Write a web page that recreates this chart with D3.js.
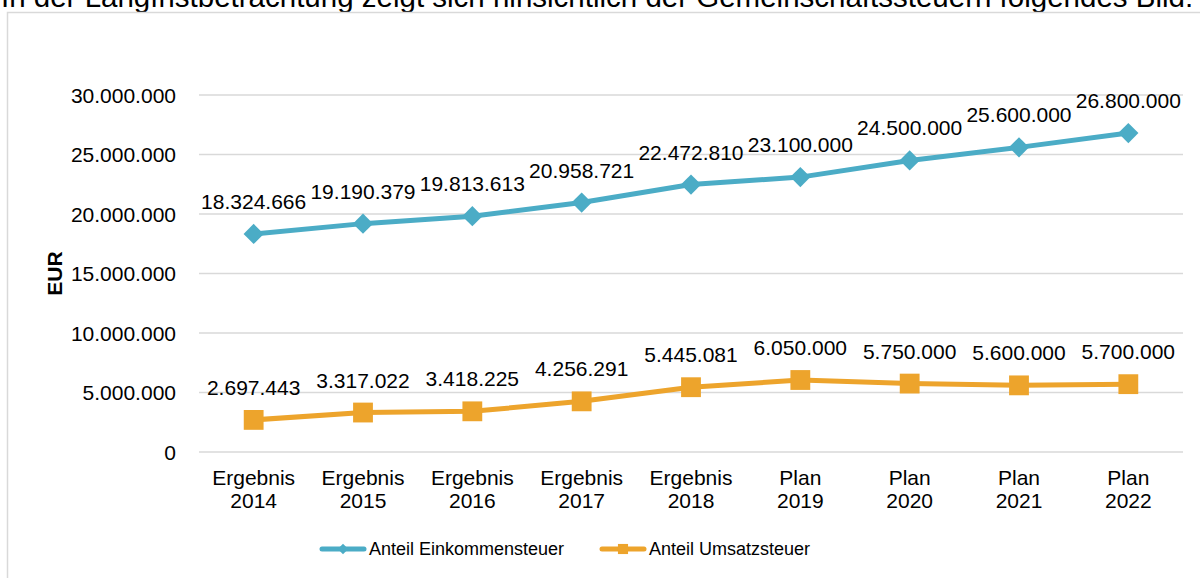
<!DOCTYPE html>
<html>
<head>
<meta charset="utf-8">
<script src="https://cdn.jsdelivr.net/npm/d3@7"></script>
<style>
  body { margin: 0; background: #fff; overflow: hidden; }
  svg { display: block; font-family: "Liberation Sans", Arial, sans-serif; }
</style>
</head>
<body>
<div id="chart"></div>
<script>
// Kategorien und Werte
const categories = [
    ["Ergebnis", "2014"], ["Ergebnis", "2015"], ["Ergebnis", "2016"],
    ["Ergebnis", "2017"], ["Ergebnis", "2018"], ["Plan", "2019"],
    ["Plan", "2020"], ["Plan", "2021"], ["Plan", "2022"]
];
const einkommensteuer = [18324666, 19190379, 19813613, 20958721, 22472810, 23100000, 24500000, 25600000, 26800000];
const umsatzsteuer = [2697443, 3317022, 3418225, 4256291, 5445081, 6050000, 5750000, 5600000, 5700000];
const yTicks = [0, 5000000, 10000000, 15000000, 20000000, 25000000, 30000000];

const series = [
    { name: "Anteil Einkommensteuer", values: einkommensteuer, color: "#4bacc6", symbol: d3.symbolDiamond2, size: 260, legendSize: 70 },
    { name: "Anteil Umsatzsteuer", values: umsatzsteuer, color: "#eda42c", symbol: d3.symbolSquare2, size: 500, legendSize: 130 }
];

const width = 1200;
const height = 578;
const margin = { left: 199, right: 17, top: 95, bottom: 126 };

const fmt = v => d3.format(",")(v).replace(/,/g, ".");

const svg = d3.select("#chart").append("svg")
    .attr("width", width)
    .attr("height", height);

// Text oberhalb (oben abgeschnitten)
svg.append("text")
    .attr("x", 1)
    .attr("y", 7)
    .attr("font-size", 29.5)
    .attr("fill", "#000")
    .text("In der Langfristbetrachtung zeigt sich hinsichtlich der Gemeinschaftssteuern folgendes Bild:");

// Rahmen
svg.append("rect")
    .attr("x", 7.5)
    .attr("y", 12.5)
    .attr("width", 1200)
    .attr("height", 600)
    .attr("fill", "none")
    .attr("stroke", "#d9d9d9")
    .attr("stroke-width", 1.5);

const x = d3.scaleBand()
    .domain(d3.range(categories.length))
    .range([margin.left, width - margin.right]);

const y = d3.scaleLinear()
    .domain([0, 30000000])
    .range([height - margin.bottom, margin.top]);

// Gitterlinien
svg.append("g")
    .selectAll("line")
    .data(yTicks)
    .join("line")
        .attr("x1", margin.left)
        .attr("x2", width - margin.right)
        .attr("y1", d => y(d))
        .attr("y2", d => y(d))
        .attr("stroke", "#d9d9d9")
        .attr("stroke-width", 1.5);

// Y-Achse
const yAxis = svg.append("g")
    .attr("transform", `translate(${margin.left - 20},0)`)
    .call(d3.axisLeft(y).tickValues(yTicks).tickFormat(fmt).tickSize(0));
yAxis.select(".domain").remove();
yAxis.selectAll("text")
    .attr("font-size", 21)
    .attr("font-family", "Liberation Sans, Arial, sans-serif")
    .attr("fill", "#000")
    .attr("dy", "0.35em");

svg.append("text")
    .attr("transform", `translate(62,${(y(0) + y(30000000)) / 2}) rotate(-90)`)
    .attr("text-anchor", "middle")
    .attr("font-size", 21)
    .attr("font-weight", "bold")
    .text("EUR");

// X-Achse
const xLabels = svg.append("g")
    .selectAll("text")
    .data(categories)
    .join("text")
        .attr("x", (d, i) => x(i) + x.bandwidth() / 2)
        .attr("y", 485)
        .attr("text-anchor", "middle")
        .attr("font-size", 21);
xLabels.append("tspan")
    .attr("x", (d, i) => x(i) + x.bandwidth() / 2)
    .text(d => d[0]);
xLabels.append("tspan")
    .attr("x", (d, i) => x(i) + x.bandwidth() / 2)
    .attr("dy", 23)
    .text(d => d[1]);

const line = d3.line()
    .x((d, i) => x(i) + x.bandwidth() / 2)
    .y(d => y(d));

series.forEach(s => {
    svg.append("path")
        .datum(s.values)
        .attr("d", line)
        .attr("fill", "none")
        .attr("stroke", s.color)
        .attr("stroke-width", 5)
        .attr("stroke-linejoin", "round");

    svg.append("g")
        .selectAll("path")
        .data(s.values)
        .join("path")
            .attr("transform", (d, i) => `translate(${x(i) + x.bandwidth() / 2},${y(d)})`)
            .attr("d", d3.symbol(s.symbol, s.size))
            .attr("fill", s.color);

    svg.append("g")
        .selectAll("text")
        .data(s.values)
        .join("text")
            .attr("x", (d, i) => x(i) + x.bandwidth() / 2)
            .attr("y", d => y(d) - 25)
            .attr("text-anchor", "middle")
            .attr("font-size", 21)
            .text(fmt);
});

// Legende
const legendItems = [
    { s: series[0], x: 320 },
    { s: series[1], x: 600 }
];
const legend = svg.append("g");
legendItems.forEach(item => {
    const g = legend.append("g").attr("transform", `translate(${item.x},549)`);
    g.append("line")
        .attr("x1", 2).attr("x2", 44)
        .attr("stroke", item.s.color)
        .attr("stroke-width", 5)
        .attr("stroke-linecap", "round");
    g.append("path")
        .attr("transform", "translate(23,0)")
        .attr("d", d3.symbol(item.s.symbol, item.s.legendSize))
        .attr("fill", item.s.color);
    g.append("text")
        .attr("x", 49)
        .attr("dy", "0.35em")
        .attr("font-size", 18)
        .text(item.s.name);
});
</script>
</body>
</html>
